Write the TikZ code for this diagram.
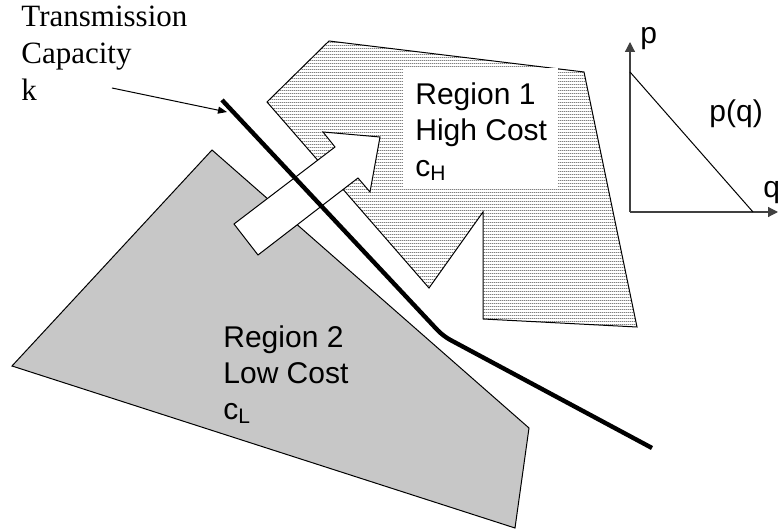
\documentclass[tikz,border=0pt]{standalone}
\usepackage{fontspec}
\setmainfont{Liberation Serif}
\setsansfont{Liberation Sans}
\usetikzlibrary{positioning, arrows.meta, patterns}

% fine horizontal stripes for the high cost region
\pgfdeclarepatternformonly{hstripes}{\pgfqpoint{0pt}{0pt}}{\pgfqpoint{1pt}{1.5pt}}{\pgfqpoint{1pt}{1.5pt}}{%
  \pgfpathrectangle{\pgfqpoint{0pt}{0pt}}{\pgfqpoint{1pt}{0.5pt}}\pgfusepath{fill}}

\begin{document}
\begin{tikzpicture}[x=0.5pt, y=-0.5pt,
    region/.style={draw=black, line width=0.5pt, line join=miter},
    rtext/.style={font=\sffamily\fontsize{15}{18}\selectfont, align=left, anchor=north west, inner sep=0pt},
    ttext/.style={font=\rmfamily\fontsize{15.5}{18.5}\selectfont, align=left, anchor=north west, inner sep=0pt},
    atext/.style={font=\sffamily\fontsize{15}{18}\selectfont, anchor=base west, inner sep=0pt},
    tline/.style={line width=2.2pt, line join=round, rounded corners=4pt},
    ptr/.style={-{Triangle[length=4.5pt,width=3.5pt]}, line width=0.5pt},
    axis/.style={-{Triangle[length=5pt,width=5pt]}, line width=0.6pt, black!75}
]
    \useasboundingbox (0,0) rectangle (778,529);

    % Region 2 (low cost)
    \filldraw[region, fill=black!22] (212,150) -- (529,428) -- (515,528) -- (12,366) -- cycle;

    % Region 1 (high cost)
    \fill[white] (329,41) -- (584,72) -- (637,327) -- (483,319) -- (483,212) -- (429,288) -- (267,102) -- cycle;
    \path[pattern=hstripes, pattern color=black!50] (329,41) -- (584,72) -- (637,327) -- (483,319) -- (483,212) -- (429,288) -- (267,102) -- cycle;
    \draw[region] (329,41) -- (584,72) -- (637,327) -- (483,319) -- (483,212) -- (429,288) -- (267,102) -- cycle;
    \fill[white] (403,68) rectangle (558,188);

    % flow arrow from region 2 to region 1
    \filldraw[region, fill=white] (234,224) -- (335,147) -- (323,132) -- (380,137)
        -- (370,192) -- (358,178) -- (258,255) -- cycle;

    % transmission line
    \coordinate (lineTop) at (222,100);
    \coordinate (lineBend) at (443,336);
    \coordinate (lineEnd) at (652,448);
    \draw[tline] (lineTop) -- (lineBend) -- (lineEnd);

    % capacity label
    \node[ttext] (cap) at (21,6) {Transmission\\Capacity\\k};
    \coordinate (kTail) at (112,88);
    \coordinate (kHead) at (227,112);
    \draw[ptr] (kTail) -- (kHead);

    % region labels
    \node[rtext] (reg1) at (415,82) {Region 1\\High Cost\\c\textsubscript{H}};
    \node[rtext] (reg2) at (223,325) {Region 2\\Low Cost\\c\textsubscript{L}};

    % demand curve
    \coordinate (O) at (630,212);
    \coordinate (pTop) at (630,42);
    \coordinate (qEnd) at (778,212);
    \coordinate (pMax) at (630,72);
    \coordinate (qMax) at (753,212);
    \draw[axis] (O) -- (pTop);
    \draw[axis] (O) -- (qEnd);
    \draw[line width=0.5pt] (pMax) -- (qMax);
    \node[atext] (pLab) at (640,44) {p};
    \node[atext] (qLab) at (763,198) {q};
    \node[atext] (pqLab) at (709,122) {p(q)};
\end{tikzpicture}
\end{document}
